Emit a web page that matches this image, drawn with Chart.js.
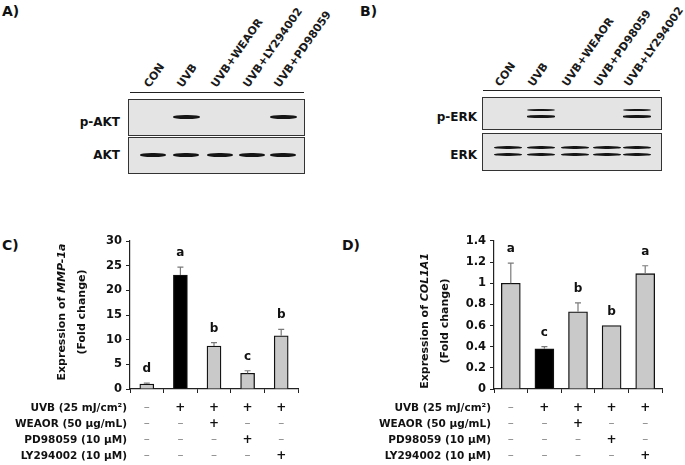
<!DOCTYPE html>
<html lang="en">
<head>
<meta charset="UTF-8">
<title>AKT / ERK blots and MMP-1a / COL1A1 expression</title>
<script src="https://cdn.jsdelivr.net/npm/chart.js"></script>
<style>
  body { margin: 0; background: #fff; font-family: "DejaVu Sans", sans-serif; color: #111; }
  #page { position: relative; width: 685px; height: 465px; overflow: hidden; }
  .panel { position: absolute; font-weight: bold; font-size: 14px; }
  .lane { position: absolute; font-size: 11px; white-space: nowrap; line-height: 13px; font-weight: bold;
          transform-origin: 0 100%; transform: rotate(-55deg); color: #1a1a1a; }
  .rule { position: absolute; height: 0; border-top: 1.5px solid #222; }
  .blot { position: absolute; border: 1.5px solid #333; background: #e4e4e4; box-sizing: border-box; }
  .band { position: absolute; background: #151515; border-radius: 45%; filter: blur(0.7px); }
  .blabel { position: absolute; font-size: 12px; font-weight: bold; text-align: right; width: 70px; line-height: 14px; }
  canvas { position: absolute; }
</style>
</head>
<body>
<div id="page">
  <div class="panel" style="left:2px;top:3px">A)</div>
  <div class="panel" style="left:360px;top:3px">B)</div>
  <div class="panel" style="left:2px;top:237px">C)</div>
  <div class="panel" style="left:342px;top:237px">D)</div>

  <div class="rule" style="left:130px;top:92px;width:174px"></div>
  <div class="blot" id="pakt" style="left:128px;top:99px;width:177px;height:37px"></div>
  <div class="blot" id="akt" style="left:128px;top:137px;width:177px;height:37px"></div>
  <div class="blabel" style="left:50px;top:115px">p-AKT</div>
  <div class="blabel" style="left:50px;top:148px">AKT</div>

  <div class="rule" style="left:483px;top:90px;width:177px"></div>
  <div class="blot" id="perk" style="left:482px;top:97px;width:180px;height:33px"></div>
  <div class="blot" id="erk" style="left:482px;top:133px;width:180px;height:38px"></div>
  <div class="blabel" style="left:407px;top:110px">p-ERK</div>
  <div class="blabel" style="left:407px;top:148px">ERK</div>

  <canvas id="chartC" width="340" height="235" style="left:0;top:230px"></canvas>
  <canvas id="chartD" width="345" height="235" style="left:340px;top:230px"></canvas>
</div>

<script>
// blot lanes
var aktLanes = ['CON', 'UVB', 'UVB+WEAOR', 'UVB+LY294002', 'UVB+PD98059'];
var erkLanes = ['CON', 'UVB', 'UVB+WEAOR', 'UVB+PD98059', 'UVB+LY294002'];
var pAktBands = [0, 1, 0, 0, 1];
var aktBands = [1, 1, 1, 1, 1];
var pErkBands = [0, 1, 0, 0, 1];
var erkBands = [1, 1, 1, 1, 1];

// qPCR panels (same treatment order in C and D)
var categories = ['CON', 'UVB', 'UVB+WEAOR', 'UVB+PD98059', 'UVB+LY294002'];
var mmpValues = [1.0, 23.1, 8.7, 3.2, 10.8];
var mmpErrors = [0.2, 1.6, 0.7, 0.5, 1.3];
var mmpLetters = ['d', 'a', 'b', 'c', 'b'];
var mmpTicks = [0, 5, 10, 15, 20, 25, 30];

var colValues = [1.0, 0.38, 0.73, 0.60, 1.09];
var colErrors = [0.19, 0.02, 0.085, 0.0, 0.075];
var colLetters = ['a', 'c', 'b', 'b', 'a'];
var colTicks = [0, 0.2, 0.4, 0.6, 0.8, 1.0, 1.2, 1.4];

var rowLabels = ['UVB (25 mJ/cm\u00B2)', 'WEAOR (50 \u00B5g/mL)', 'PD98059 (10 \u00B5M)', 'LY294002 (10 \u00B5M)'];
var uvbRow   = ['\u2013', '+', '+', '+', '+'];
var weaorRow = ['\u2013', '\u2013', '+', '\u2013', '\u2013'];
var pdRow    = ['\u2013', '\u2013', '\u2013', '+', '\u2013'];
var lyRow    = ['\u2013', '\u2013', '\u2013', '\u2013', '+'];
var tableRows = [uvbRow, weaorRow, pdRow, lyRow];

var FONT = '"DejaVu Sans"';

// ---- western blots (plain html) ----
var page = document.getElementById('page');
function laneLabels(names, xs, baseY, dx) {
    names.forEach(function (n, i) {
        var s = document.createElement('span');
        s.className = 'lane';
        s.textContent = n;
        s.style.left = (xs[i] + dx) + 'px';
        s.style.top = (baseY - 13) + 'px';
        page.appendChild(s);
    });
}
function bands(flags, xs, ys, w, h) {
    flags.forEach(function (f, i) {
        if (!f) return;
        ys.forEach(function (y) {
            var b = document.createElement('div');
            b.className = 'band';
            b.style.left = (xs[i] - w / 2) + 'px';
            b.style.top = (y - h / 2) + 'px';
            b.style.width = w + 'px';
            b.style.height = h + 'px';
            page.appendChild(b);
        });
    });
}
var aX = [153, 186, 220, 252, 283];
var bX = [508, 541, 575, 607, 637];
laneLabels(aktLanes, aX, 90, -1);
laneLabels(erkLanes, bX, 89, -5);
bands(pAktBands, aX, [117], 27, 4);
bands(aktBands, aX, [155], 26, 4);
bands(pErkBands, bX, [110, 116.5], 28, 2.4);
bands(erkBands, bX, [147, 154], 28, 3);

// ---- bar charts ----
Chart.defaults.font.family = FONT;
Chart.defaults.color = '#111';

var extras = {
    id: 'extras',
    afterDatasetsDraw: function (chart, args, opts) {
        var ctx = chart.ctx;
        var x = chart.scales.x, y = chart.scales.y;
        var area = chart.chartArea;
        ctx.save();
        // error bars + letters
        opts.values.forEach(function (v, i) {
            var cx = x.getPixelForValue(i);
            var top = y.getPixelForValue(v);
            var et = y.getPixelForValue(v + opts.errors[i]);
            ctx.strokeStyle = '#7a7a7a';
            ctx.lineWidth = 1.2;
            if (opts.errors[i] > 0) {
                ctx.beginPath();
                ctx.moveTo(cx, top);
                ctx.lineTo(cx, et);
                ctx.moveTo(cx - 3, et);
                ctx.lineTo(cx + 3, et);
                ctx.stroke();
            }
            ctx.fillStyle = '#111';
            ctx.font = 'bold 12px ' + FONT;
            ctx.textAlign = 'center';
            ctx.textBaseline = 'middle';
            ctx.fillText(opts.letters[i], cx, et - 14);
        });
        // treatment table
        tableRows.forEach(function (row, r) {
            var ty = area.bottom + 19 + r * 16;
            ctx.textBaseline = 'middle';
            ctx.textAlign = 'right';
            ctx.fillStyle = '#111';
            ctx.font = 'bold 10.5px ' + FONT;
            ctx.fillText(rowLabels[r], area.left - 3, ty);
            row.forEach(function (s, i) {
                ctx.textAlign = 'center';
                if (s === '+') {
                    ctx.fillStyle = '#111';
                    ctx.font = 'bold 12px ' + FONT;
                } else {
                    ctx.fillStyle = '#888';
                    ctx.font = '12px ' + FONT;
                }
                ctx.fillText(s, x.getPixelForValue(i), ty);
            });
        });
        // y title with italic gene name
        ctx.translate(opts.titleX, area.top + opts.titleDy);
        ctx.rotate(-Math.PI / 2);
        ctx.fillStyle = '#111';
        ctx.textAlign = 'left';
        ctx.textBaseline = 'middle';
        var f1 = 'bold 11px ' + FONT, f2 = 'italic bold 11px ' + FONT;
        var p1 = 'Expression of ';
        ctx.font = f1; var w1 = ctx.measureText(p1).width;
        ctx.font = f2; var w2 = ctx.measureText(opts.gene).width;
        var sx = -(w1 + w2) / 2;
        ctx.font = f1; ctx.fillText(p1, sx, 0);
        ctx.font = f2; ctx.fillText(opts.gene, sx + w1, 0);
        ctx.font = f1; ctx.textAlign = 'center';
        ctx.fillText('(Fold change)', 0, 20);
        ctx.restore();
    }
};

function makeChart(id, values, errors, letters, ticks, gene, barW, pad, yWidth, titleX, titleDy) {
    var step = ticks[1] - ticks[0];
    return new Chart(document.getElementById(id), {
        type: 'bar',
        data: {
            labels: categories,
            datasets: [{
                data: values,
                backgroundColor: function (c) { return c.dataIndex === 1 ? '#000' : '#c9c9c9'; },
                borderColor: '#111',
                borderWidth: 1.3,
                barThickness: barW
            }]
        },
        plugins: [extras],
        options: {
            responsive: false,
            animation: false,
            layout: { padding: pad },
            plugins: {
                legend: { display: false },
                tooltip: { enabled: false },
                extras: { values: values, errors: errors, letters: letters, gene: gene, titleX: titleX, titleDy: titleDy }
            },
            scales: {
                x: {
                    grid: { display: true, offset: true, drawOnChartArea: false, drawTicks: true, tickLength: 4, color: '#222' },
                    border: { color: '#222', width: 1.2 },
                    ticks: { display: false },
                    afterFit: function (s) { s.height = 76; }
                },
                y: {
                    min: ticks[0],
                    max: ticks[ticks.length - 1],
                    grid: { display: true, drawOnChartArea: false, drawTicks: true, tickLength: 4, color: '#222' },
                    border: { color: '#222', width: 1.2 },
                    ticks: {
                        stepSize: step,
                        padding: 4,
                        font: { size: 11.5, weight: 'bold' },
                        color: '#111',
                        callback: function (v) { return String(Math.round(v * 10) / 10); }
                    },
                    afterFit: function (s) { s.width = yWidth; }
                }
            }
        }
    });
}

makeChart('chartC', mmpValues, mmpErrors, mmpLetters, mmpTicks, 'MMP-1a', 14,
    { left: 0, right: 42, top: 11, bottom: 0 }, 130, 62, 71);
makeChart('chartD', colValues, colErrors, colLetters, colTicks, 'COL1A1', 19,
    { left: 0, right: 23, top: 8, bottom: 0 }, 154, 85, 80);
</script>
</body>
</html>
